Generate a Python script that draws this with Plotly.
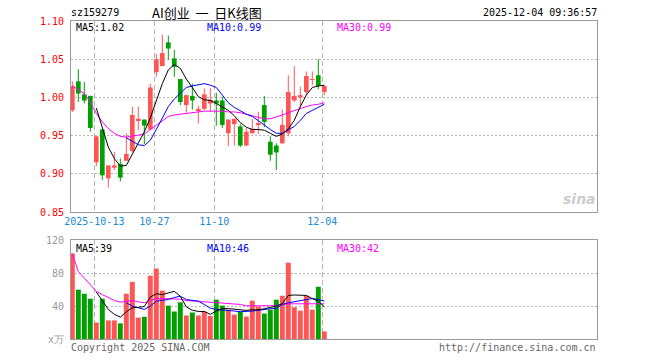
import plotly.graph_objects as go

# ---------------- data ----------------
dates = ["09-29", "09-30", "10-09", "10-10", "10-13", "10-14", "10-15", "10-16", "10-17",
         "10-20", "10-21", "10-22", "10-23", "10-24", "10-27", "10-28", "10-29", "10-30",
         "10-31", "11-03", "11-04", "11-05", "11-06", "11-07", "11-10", "11-11", "11-12",
         "11-13", "11-14", "11-17", "11-18", "11-19", "11-20", "11-21", "11-24", "11-25",
         "11-26", "11-27", "11-28", "12-01", "12-02", "12-03", "12-04"]

opens = [0.983, 1.021, 1.004, 1.002, 0.915, 0.958, 0.894, 0.908, 0.913, 0.917, 0.930,
         0.970, 0.971, 0.958, 1.033, 1.041, 1.072, 1.051, 1.024, 0.990, 1.002, 0.983,
         0.985, 0.992, 0.996, 0.996, 0.953, 0.965, 0.962, 0.937, 0.953, 0.964, 0.990,
         0.942, 0.937, 0.940, 0.953, 0.996, 1.000, 1.007, 1.023, 1.029, 1.007]
closes = [1.015, 1.005, 0.996, 0.960, 0.949, 0.898, 0.911, 0.911, 0.895, 0.926, 0.977,
          0.972, 0.963, 1.013, 1.050, 1.058, 1.064, 1.040, 0.994, 1.003, 0.996, 0.985,
          1.004, 0.997, 0.992, 0.964, 0.971, 0.972, 0.937, 0.955, 0.959, 0.966, 0.968,
          0.925, 0.928, 0.964, 1.007, 1.002, 1.003, 1.028, 1.024, 1.015, 1.015]
highs = [1.021, 1.037, 1.020, 1.002, 0.949, 0.958, 0.911, 0.929, 0.920, 0.953, 0.988,
         0.988, 0.971, 1.018, 1.057, 1.082, 1.081, 1.062, 1.024, 1.003, 1.018, 0.989,
         1.012, 1.012, 1.006, 1.001, 0.971, 0.972, 0.965, 0.960, 0.972, 0.981, 1.002,
         0.949, 0.940, 0.984, 1.029, 1.041, 1.014, 1.034, 1.034, 1.050, 1.016]
lows = [0.981, 0.994, 0.992, 0.955, 0.910, 0.892, 0.882, 0.905, 0.890, 0.917, 0.928,
        0.957, 0.939, 0.957, 1.027, 1.041, 1.049, 1.027, 0.990, 0.980, 0.984, 0.966,
        0.983, 0.981, 0.963, 0.960, 0.936, 0.937, 0.935, 0.936, 0.953, 0.952, 0.961,
        0.917, 0.905, 0.939, 0.949, 0.994, 0.987, 1.003, 1.016, 1.011, 1.003]

ma5 = [None, None, None, None, 0.986, 0.960, 0.935, 0.920, 0.910, 0.911, 0.926, 0.942,
       0.955, 0.973, 0.996, 1.018, 1.036, 1.043, 1.038, 1.024, 1.013, 1.001, 0.997, 0.996,
       0.992, 0.988, 0.983, 0.976, 0.967, 0.961, 0.958, 0.958, 0.957, 0.953, 0.949, 0.952,
       0.959, 0.970, 0.988, 1.003, 1.013, 1.015, 1.016]
ma10 = [None] * 9 + [0.947, 0.942, 0.938, 0.937, 0.944, 0.958, 0.974, 0.988, 0.998, 1.006,
                     1.013, 1.015, 1.017, 1.018, 1.016, 1.013, 1.003, 0.993, 0.987, 0.982,
                     0.978, 0.975, 0.970, 0.964, 0.958, 0.953, 0.953, 0.957, 0.962, 0.970,
                     0.979, 0.983, 0.987, 0.991]
ma30 = [1.015, 1.010, 1.005, 0.994, 0.979, 0.968, 0.959, 0.953, 0.949, 0.948, 0.949, 0.951,
        0.952, 0.958, 0.964, 0.970, 0.975, 0.977, 0.978, 0.979, 0.980, 0.981, 0.982, 0.982,
        0.982, 0.982, 0.981, 0.981, 0.980, 0.978, 0.976, 0.975, 0.972, 0.972, 0.974, 0.977,
        0.980, 0.983, 0.986, 0.988, 0.990, 0.991, 0.993]

volume = [104, 60, 55, 49, 20, 49, 22.6, 22.6, 19, 55, 69.5, 26, 27, 77, 85.6, 58.8, 40.6,
          33.4, 44.6, 28.6, 32.2, 28.6, 33.4, 28, 47.8, 40.6, 35.7, 29.7, 33, 27.3, 46.6,
          39.4, 31, 35.7, 47.8, 52.6, 92.8, 38.6, 34.5, 52.6, 35.7, 63.5, 9.2]
vma5 = [None, None, None, None, 57, 46, 36, 30, 26.6, 33, 38, 38.5, 39.5, 51, 55, 54, 56,
        58, 52, 39, 35, 33.5, 33.5, 30, 34, 36.8, 37, 36, 35, 34.8, 35.5, 35.5, 36.8, 38,
        40, 43, 53, 53.5, 53.5, 53, 49, 46, 39]
vma10 = [None] * 9 + [44, 40, 38, 36, 40, 46, 47, 48, 50.5, 52, 48, 47, 46, 42, 37.5, 36,
                      35.6, 34.8, 34, 33.2, 33.2, 34, 34.8, 36, 36.8, 37.2, 42, 44, 45.2,
                      46.8, 48, 49.2, 48, 46]
vma30 = [104, 82, 74, 66.4, 58, 54, 50, 46.8, 44.8, 46, 46.8, 45.2, 44, 46.8, 49.2, 49.2,
         48.8, 48.8, 48.4, 46.8, 46, 45.6, 45.2, 44.8, 44.4, 43.5, 42.8, 42.8, 42, 40.4,
         40.2, 40, 40, 40.4, 40.8, 42, 42.8, 42.8, 42.8, 42.8, 42.8, 42.8, 42.8]

tick_dates = ["10-13", "10-27", "11-10", "12-04"]
tick_labels = ["2025-10-13", "10-27", "11-10", "12-04"]
price_ticks = [0.85, 0.90, 0.95, 1.00, 1.05, 1.10]
vol_ticks = [0, 40, 80, 120]
vol_tick_labels = ["x万", "40", "80", "120"]

# ---------------- styling ----------------
W, H = 660, 360
RED = "#ff5555"
GREEN = "#00a000"
MONO = "DejaVu Sans Mono, Liberation Mono, monospace"
CJK = "Noto Sans CJK SC, sans-serif"


def fx(p):
    return p / W


def fy(p):
    return 1 - p / H


idx = list(range(len(dates)))
colors = [RED if closes[i] >= opens[i] else GREEN for i in idx]

fig = go.Figure()

# candle bodies
fig.add_trace(go.Bar(
    x=idx, y=[max(abs(closes[i] - opens[i]), 0.0007) for i in idx],
    base=[min(opens[i], closes[i]) for i in idx],
    width=0.78, marker=dict(color=colors, line=dict(width=0)),
    xaxis="x", yaxis="y", hoverinfo="skip"))

# wicks
for col in (RED, GREEN):
    wx, wy = [], []
    for i in idx:
        if colors[i] == col:
            wx += [i, i, None]
            wy += [lows[i], highs[i], None]
    fig.add_trace(go.Scatter(x=wx, y=wy, mode="lines", line=dict(color=col, width=1),
                             xaxis="x", yaxis="y", hoverinfo="skip"))

# price MAs
for arr, col in ((ma30, "#ff00ff"), (ma10, "#0000ff"), (ma5, "#000000")):
    fig.add_trace(go.Scatter(x=idx, y=arr, mode="lines", line=dict(color=col, width=1),
                             xaxis="x", yaxis="y", hoverinfo="skip"))

# volume bars
fig.add_trace(go.Bar(x=idx, y=volume, width=0.82, marker=dict(color=colors, line=dict(width=0)),
                     xaxis="x2", yaxis="y2", hoverinfo="skip"))
for arr, col in ((vma30, "#ff00ff"), (vma10, "#0000ff"), (vma5, "#000000")):
    fig.add_trace(go.Scatter(x=idx, y=arr, mode="lines", line=dict(color=col, width=1),
                             xaxis="x2", yaxis="y2", hoverinfo="skip"))

tickpos = [dates.index(d) - 0.33 for d in tick_dates]
xrange_ = [-0.22, 87.45]
xdom = [fx(71), fx(597)]

common_x = dict(domain=xdom, range=xrange_, showgrid=True, gridcolor="#b4b4b4",
                griddash="5px,3px", gridwidth=1, zeroline=False, showline=True,
                mirror=True, linecolor="#9a9a9a", linewidth=1, ticks="",
                tickvals=tickpos, fixedrange=True, automargin=False)

common_y = dict(showgrid=True, gridcolor="#b4b4b4", griddash="2px,2px", zeroline=False,
                showline=True, mirror=True, linecolor="#9a9a9a", linewidth=1,
                ticks="outside", ticklen=4, tickcolor="rgba(0,0,0,0)",
                fixedrange=True, automargin=False)

fig.update_layout(
    width=W, height=H, margin=dict(l=0, r=0, t=0, b=0, autoexpand=False),
    paper_bgcolor="white", plot_bgcolor="white", showlegend=False,
    barmode="overlay",
    xaxis=dict(**common_x, anchor="y", ticktext=tick_labels,
               tickfont=dict(family=MONO, size=10, color="#1a8ad4")),
    yaxis=dict(**common_y, domain=[fy(212), fy(21)], range=[0.85, 1.10],
               tickvals=price_ticks, ticktext=["%.2f" % v for v in price_ticks],
               tickfont=dict(family=MONO, size=10, color="#ff0000"), anchor="x"),
    xaxis2=dict(**common_x, anchor="y2", showticklabels=False),
    yaxis2=dict(**common_y, domain=[fy(339), fy(240.3)], range=[0, 120],
                tickvals=vol_ticks, ticktext=vol_tick_labels,
                tickfont=dict(family=MONO, size=10, color="#999999"), anchor="x2"),
)


def txt(x, y, s, color="#000", size=10, xanchor="left", family=MONO, **kw):
    fig.add_annotation(x=fx(x), y=fy(y), xref="paper", yref="paper", text=s,
                       showarrow=False, xanchor=xanchor, yanchor="middle",
                       font=dict(family=family, size=size, color=color), **kw)


txt(69, 13, "sz159279")
txt(150, 13, "AI创业  一  日K线图", size=13, family=CJK)
txt(599, 13, "2025-12-04 09:36:57", xanchor="right")

txt(74, 28, "MA5:1.02", color="#000000")
txt(205, 28, "MA10:0.99", color="#0000ff")
txt(335, 28, "MA30:0.99", color="#ff00ff")

txt(74, 248, "MA5:39", color="#000000")
txt(205, 248, "MA10:46", color="#0000ff")
txt(335, 248, "MA30:42", color="#ff00ff")

txt(69, 347, "Copyright 2025 SINA.COM", color="#666666")
txt(598, 347, "http://finance.sina.com.cn", color="#666666", xanchor="right")

txt(598, 199, "<i><b>sina</b></i>", color="#cccccc", size=14, xanchor="right",
    family="DejaVu Sans, sans-serif")

fig.write_html("out.html", config={"displayModeBar": False},
               post_script="document.body.style.margin='0';document.body.style.padding='0';")
